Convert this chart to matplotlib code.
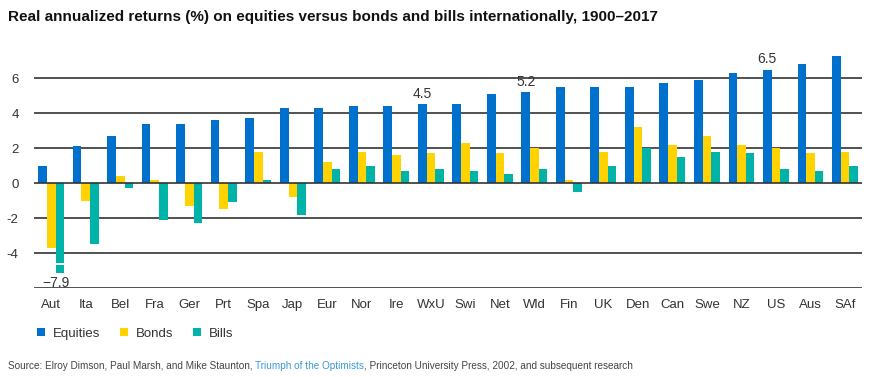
import numpy as np
import matplotlib.pyplot as plt

plt.rcParams['font.family'] = ['Liberation Sans', 'DejaVu Sans']

countries = ['Aut', 'Ita', 'Bel', 'Fra', 'Ger', 'Prt', 'Spa', 'Jap', 'Eur', 'Nor',
             'Ire', 'WxU', 'Swi', 'Net', 'Wld', 'Fin', 'UK', 'Den', 'Can', 'Swe',
             'NZ', 'US', 'Aus', 'SAf']
equities = [1.0, 2.1, 2.7, 3.4, 3.4, 3.6, 3.7, 4.3, 4.3, 4.4, 4.4, 4.5, 4.5, 5.1,
            5.2, 5.5, 5.5, 5.5, 5.7, 5.9, 6.3, 6.5, 6.8, 7.3]
bonds = [-3.7, -1.0, 0.4, 0.2, -1.3, -1.5, 1.8, -0.8, 1.2, 1.8, 1.6, 1.7, 2.3, 1.7,
         2.0, 0.2, 1.8, 3.2, 2.2, 2.7, 2.2, 2.0, 1.7, 1.8]
bills = [-7.9, -3.5, -0.3, -2.1, -2.3, -1.1, 0.2, -1.8, 0.8, 1.0, 0.7, 0.8, 0.7, 0.5,
         0.8, -0.5, 1.0, 2.0, 1.5, 1.8, 1.7, 0.8, 0.7, 1.0]
labelled = {'WxU': 4.5, 'Wld': 5.2, 'US': 6.5}

c_eq = '#0070CD'
c_bo = '#FFD200'
c_bi = '#00B3A9'

fig = plt.figure(figsize=(8.83, 3.77), dpi=100)
ax = fig.add_axes([0.0385, 0.236, 0.938, 0.626])

x = np.arange(len(countries))
w = 0.25

# bills bar for Austria is cut (broken axis)
bills_drawn = [max(v, -4.55) for v in bills]

ax.bar(x - w, equities, w, color=c_eq, zorder=3, label='Equities')
ax.bar(x, bonds, w, color=c_bo, zorder=3, label='Bonds')
ax.bar(x + w, bills_drawn, w, color=c_bi, zorder=3, label='Bills')
# lower piece of the broken bar
ax.bar(x[0] + w, -0.45, w, bottom=-4.7, color=c_bi, zorder=3)
ax.text(x[0] + 0.15, -5.3, '\u22127.9', ha='center', va='top', fontsize=10, color='#333333')

for name, val in labelled.items():
    i = countries.index(name)
    ax.text(i - w, equities[i] + 0.2, str(val), ha='center', va='bottom',
            fontsize=10, color='#333333')

for yv in [-6, -4, -2, 0, 2, 4, 6]:
    ax.axhline(yv, color='#333333', lw=1.2, zorder=2 if yv != 0 else 4)

ax.set_xlim(-0.5, 23.5)
ax.set_ylim(-6, 7.5)
ax.set_yticks([-4, -2, 0, 2, 4, 6])
ax.set_yticklabels(['-4', '-2', '0', '2', '4', '6'])
ax.set_xticks(x)
ax.set_xticklabels(countries)
ax.tick_params(axis='both', length=0, labelsize=9.5, colors='#333333')
ax.tick_params(axis='y', pad=11)
ax.tick_params(axis='x', pad=8)
for s in ax.spines.values():
    s.set_visible(False)

leg = fig.legend(loc='upper left', bbox_to_anchor=(0.036, 0.145), ncol=3, frameon=False,
                 fontsize=9.5, handlelength=0.6, handleheight=0.6, handletextpad=0.6,
                 columnspacing=1.5, borderaxespad=0)
for t in leg.get_texts():
    t.set_color('#333333')

fig.text(0.009, 0.955, 'Real annualized returns (%) on equities versus bonds and bills internationally, 1900\u20132017',
         fontsize=11, fontweight='bold', color='#111111', va='center')

src_y = 0.03
t1 = fig.text(0.009, src_y, 'Source: Elroy Dimson, Paul Marsh, and Mike Staunton, ',
              fontsize=7.2, color='#444444', va='center')
fig.canvas.draw()
r = fig.canvas.get_renderer()
bb = t1.get_window_extent(r)
x2 = bb.x1 / fig.bbox.width
t2 = fig.text(x2, src_y, 'Triumph of the Optimists', fontsize=7.2, color='#3A9AD9', va='center')
bb2 = t2.get_window_extent(r)
x3 = bb2.x1 / fig.bbox.width
fig.text(x3, src_y, ', Princeton University Press, 2002, and subsequent research',
         fontsize=7.2, color='#444444', va='center')

fig.savefig('out.png', dpi=100)
